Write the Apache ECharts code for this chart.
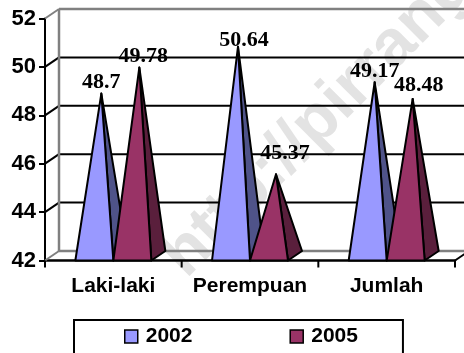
<!DOCTYPE html>
<html>
<head>
<meta charset="utf-8">
<style>html,body{margin:0;padding:0;background:#fff}#c{width:464px;height:353px}</style>
<script src="https://cdn.jsdelivr.net/npm/echarts@6/dist/echarts.min.js"></script>
</head>
<body>
<div id="c"></div>
<script>
const categories = ['Laki-laki', 'Perempuan', 'Jumlah'];
const values2002 = [48.7, 50.64, 49.17];
const values2005 = [49.78, 45.37, 48.48];
const yTicks = [42, 44, 46, 48, 50, 52];

// Oblique depth of the pseudo-3D box, in pixels
const DEPTH_X = 14, DEPTH_Y = -9.5;
const PYRAMID_W = 38;
const SANS = '"Liberation Sans", Arial, sans-serif';

// Value-label nudges from each apex, per series and category
const labelNudge = {
  '2002': [[0, -11], [6, -6], [0, -11]],
  '2005': [[4, -11], [9, -21], [6, -14]]
};

function wallItem(params, api) {
  const cs = params.coordSys;
  const right = cs.x + cs.width;
  const kids = [];
  const seg = (x1, y1, x2, y2, color, w) => kids.push({
    type: 'line',
    shape: { x1, y1, x2, y2 },
    style: { stroke: color, lineWidth: w }
  });
  yTicks.forEach(v => {
    const y = api.coord([0, v])[1];
    const edge = v === 42 || v === 52;
    const col = edge ? '#808080' : '#000';
    const w = edge ? 2.5 : 2;
    seg(cs.x, y, cs.x + DEPTH_X, y + DEPTH_Y, col, 2);
    seg(cs.x + DEPTH_X, y + DEPTH_Y, right + DEPTH_X, y + DEPTH_Y, col, w);
  });
  const bottom = api.coord([0, 42])[1];
  const top = api.coord([0, 52])[1];
  seg(cs.x + DEPTH_X, top + DEPTH_Y, cs.x + DEPTH_X, bottom + DEPTH_Y, '#808080', 2.5);
  seg(right, bottom, right + DEPTH_X, bottom + DEPTH_Y, '#000', 2);
  // Tick marks on the category boundaries
  for (let i = 0; i <= categories.length; i++) {
    const x = cs.x + cs.width * i / categories.length;
    seg(x, bottom, x, bottom + 7, '#000', 2);
  }
  return { type: 'group', children: kids };
}

function pyramidSeries(name, values, front, side, slot) {
  return {
    name,
    type: 'custom',
    coordinateSystem: 'cartesian2d',
    clip: false,
    z: 5,
    itemStyle: { color: front },
    data: values.map((v, i) => [i, v]),
    renderItem(params, api) {
      const i = api.value(0), v = api.value(1);
      const base = api.coord([i, 42]);
      const tip = api.coord([i, v]);
      const x0 = base[0] + slot * PYRAMID_W;
      const x1 = x0 + PYRAMID_W;
      const apex = [(x0 + x1) / 2 + DEPTH_X / 2, tip[1] + DEPTH_Y / 2];
      const outline = { stroke: '#000', lineWidth: 2, lineJoin: 'round' };
      const nudge = labelNudge[name][i];
      return {
        type: 'group',
        children: [
          {
            type: 'polygon',
            shape: { points: [[x1, base[1]], [x1 + DEPTH_X, base[1] + DEPTH_Y], apex] },
            style: Object.assign({ fill: side }, outline)
          },
          {
            type: 'polygon',
            shape: { points: [[x0, base[1]], [x1, base[1]], apex] },
            style: Object.assign({ fill: front }, outline)
          },
          {
            type: 'text',
            z2: 20,
            style: {
              x: apex[0] + nudge[0],
              y: apex[1] + nudge[1],
              text: String(v),
              fill: '#000',
              align: 'center',
              verticalAlign: 'middle',
              font: 'bold 22px "Liberation Serif", "Times New Roman", serif'
            }
          }
        ]
      };
    }
  };
}

const chart = echarts.init(document.getElementById('c'), null, { renderer: 'canvas' });
chart.setOption({
  animation: false,
  backgroundColor: '#fff',
  graphic: [{
    type: 'text',
    z: -1,
    x: 150,
    y: 243,
    rotation: Math.PI / 4,
    style: {
      text: 'http://pirrang',
      fill: '#e3e3e3',
      font: 'bold 66px ' + SANS
    }
  }],
  grid: { left: 45, right: 9, top: 18.5, bottom: 92.5 },
  legend: {
    left: 74,
    top: 320,
    padding: [6, 45, 14, 50],
    itemGap: 97,
    itemWidth: 13,
    itemHeight: 13,
    icon: 'rect',
    selectedMode: false,
    borderColor: '#000',
    borderWidth: 2,
    backgroundColor: '#fff',
    itemStyle: { borderColor: '#000', borderWidth: 1.5 },
    textStyle: { color: '#000', fontWeight: 'bold', fontSize: 21, fontFamily: SANS, padding: [0, 0, 0, 3] },
    data: ['2002', '2005']
  },
  xAxis: {
    type: 'category',
    data: categories,
    boundaryGap: true,
    axisLine: { lineStyle: { color: '#000', width: 2.5 } },
    axisTick: { show: false },
    axisLabel: { color: '#000', fontWeight: 'bold', fontSize: 21, fontFamily: SANS, margin: 15, interval: 0, hideOverlap: false }
  },
  yAxis: {
    type: 'value',
    min: 42,
    max: 52,
    interval: 2,
    axisLine: { show: true, lineStyle: { color: '#000', width: 2 } },
    axisTick: { show: true, length: 6, lineStyle: { color: '#000', width: 2 } },
    splitLine: { show: false },
    axisLabel: { color: '#000', fontWeight: 'bold', fontSize: 22, fontFamily: SANS, margin: 9 }
  },
  series: [
    {
      name: 'walls',
      type: 'custom',
      coordinateSystem: 'cartesian2d',
      clip: false,
      silent: true,
      z: 1,
      data: [[0, 42]],
      renderItem: wallItem
    },
    pyramidSeries('2002', values2002, '#9999FF', '#4F5389', -1),
    pyramidSeries('2005', values2005, '#993366', '#5A1F3C', 0)
  ]
});
</script>
</body>
</html>
